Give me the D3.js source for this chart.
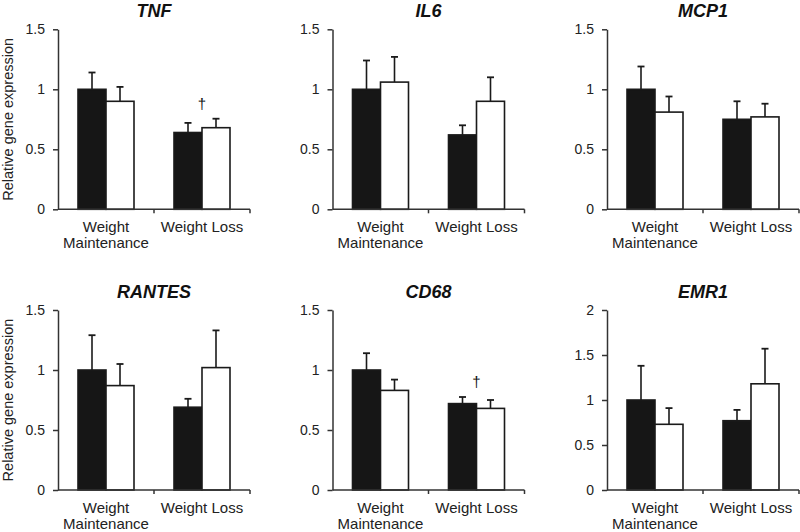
<!DOCTYPE html>
<html>
<head>
<meta charset="utf-8">
<script src="https://cdn.jsdelivr.net/npm/d3@7"></script>
<style>
  html, body { margin: 0; padding: 0; background: #fff; }
  svg { display: block; font-family: "Liberation Sans", Arial, Helvetica, sans-serif; }
</style>
</head>
<body>
<svg id="chart" width="800" height="532"></svg>
<script>
// ---- data ----
const categories = ["Weight Maintenance", "Weight Loss"];
const categoryLines = [["Weight", "Maintenance"], ["Weight Loss"]];
const genes = ["TNF", "IL6", "MCP1", "RANTES", "CD68", "EMR1"];
const yMax = [1.5, 1.5, 1.5, 1.5, 1.5, 2];
const yTicks = [
  [0, 0.5, 1, 1.5], [0, 0.5, 1, 1.5], [0, 0.5, 1, 1.5],
  [0, 0.5, 1, 1.5], [0, 0.5, 1, 1.5], [0, 0.5, 1, 1.5, 2]
];
// black series (first bar) and white series (second bar), per gene: [WM, WL]
const blackValues = [
  [1.0, 0.64], [1.0, 0.62], [1.0, 0.75], [1.0, 0.69], [1.0, 0.72], [1.0, 0.77]
];
const blackErrTop = [
  [1.14, 0.72], [1.24, 0.70], [1.19, 0.90], [1.29, 0.76], [1.14, 0.775], [1.38, 0.89]
];
const whiteValues = [
  [0.90, 0.68], [1.06, 0.90], [0.81, 0.77], [0.87, 1.02], [0.83, 0.68], [0.73, 1.18]
];
const whiteErrTop = [
  [1.02, 0.755], [1.27, 1.10], [0.94, 0.88], [1.05, 1.33], [0.92, 0.75], [0.91, 1.57]
];
// dagger markers: [gene index, category index]
const daggers = [[0, 1], [4, 1]];
const yLabel = "Relative gene expression";

// ---- layout ----
const svg = d3.select("#chart");
const colX = [58, 332.5, 607];
const rowTop = [29.3, 310];
const plotW = 192, plotH = 180;
const barW = 28;
const textColor = "#222";
const axisColor = "#333";

genes.forEach((gene, gi) => {
  const col = gi % 3, row = Math.floor(gi / 3);
  const x0 = colX[col], y0 = rowTop[row];
  const g = svg.append("g").attr("transform", `translate(${x0},${y0})`);

  const x = d3.scaleBand().domain(categories).range([0, plotW]).padding(0);
  const y = d3.scaleLinear().domain([0, yMax[gi]]).range([plotH, 0]);

  // bars
  categories.forEach((c, ci) => {
    const cx = x(c) + x.bandwidth() / 2;
    const series = [
      { v: blackValues[gi][ci], e: blackErrTop[gi][ci], fill: "#161616", bx: cx - barW },
      { v: whiteValues[gi][ci], e: whiteErrTop[gi][ci], fill: "#ffffff", bx: cx }
    ];
    series.forEach(s => {
      const ex = s.bx + barW / 2;
      g.append("line").attr("x1", ex).attr("x2", ex)
        .attr("y1", y(s.v)).attr("y2", y(s.e))
        .attr("stroke", "#1a1a1a").attr("stroke-width", 1.6);
      g.append("line").attr("x1", ex - 3.5).attr("x2", ex + 3.5)
        .attr("y1", y(s.e)).attr("y2", y(s.e))
        .attr("stroke", "#1a1a1a").attr("stroke-width", 1.8);
      g.append("rect")
        .attr("x", s.bx).attr("width", barW)
        .attr("y", y(s.v)).attr("height", y(0) - y(s.v))
        .attr("fill", s.fill).attr("stroke", "#1a1a1a").attr("stroke-width", 1.6);
    });
  });

  // daggers
  daggers.filter(d => d[0] === gi).forEach(d => {
    const c = categories[d[1]];
    const top = Math.max(blackErrTop[gi][d[1]], whiteErrTop[gi][d[1]]);
    g.append("text")
      .attr("x", x(c) + x.bandwidth() / 2)
      .attr("y", y(top) - 10)
      .attr("text-anchor", "middle")
      .attr("font-size", 15)
      .attr("fill", "#111")
      .text("\u2020");
  });

  // y axis
  const ya = g.append("g").call(
    d3.axisLeft(y).tickValues(yTicks[gi]).tickFormat(d3.format("~g"))
      .tickSizeInner(5).tickSizeOuter(0).tickPadding(8)
  );
  ya.select(".domain").attr("stroke", axisColor).attr("stroke-width", 1.5);
  ya.selectAll(".tick line").attr("stroke", axisColor).attr("stroke-width", 1.5);
  ya.selectAll(".tick text").attr("font-size", 14).attr("fill", textColor)
    .attr("font-family", "\"Liberation Sans\", Arial, sans-serif");

  // x axis line with boundary ticks
  g.append("line").attr("x1", 0).attr("x2", plotW)
    .attr("y1", y(0)).attr("y2", y(0))
    .attr("stroke", axisColor).attr("stroke-width", 1.5);
  const bounds = categories.map(c => x(c) + x.bandwidth());
  bounds.forEach(bx => {
    g.append("line").attr("x1", bx).attr("x2", bx)
      .attr("y1", y(0)).attr("y2", y(0) + 4)
      .attr("stroke", axisColor).attr("stroke-width", 1.5);
  });

  // category labels
  categories.forEach((c, ci) => {
    const t = g.append("text")
      .attr("x", x(c) + x.bandwidth() / 2)
      .attr("y", y(0) + 23)
      .attr("text-anchor", "middle")
      .attr("font-size", 15)
      .attr("fill", textColor);
    categoryLines[ci].forEach((ln, li) => {
      t.append("tspan").attr("x", x(c) + x.bandwidth() / 2)
        .attr("dy", li === 0 ? 0 : 15.5).text(ln);
    });
  });

  // title
  g.append("text")
    .attr("x", plotW / 2).attr("y", -12.5)
    .attr("text-anchor", "middle")
    .attr("font-size", 18).attr("font-weight", "bold").attr("font-style", "italic")
    .attr("fill", "#111")
    .text(gene);

  // y label (first column only)
  if (col === 0) {
    g.append("text")
      .attr("transform", `translate(${13 - x0},${plotH / 2}) rotate(-90)`)
      .attr("text-anchor", "middle")
      .attr("font-size", 14.5)
      .attr("fill", textColor)
      .text(yLabel);
  }
});
</script>
</body>
</html>
